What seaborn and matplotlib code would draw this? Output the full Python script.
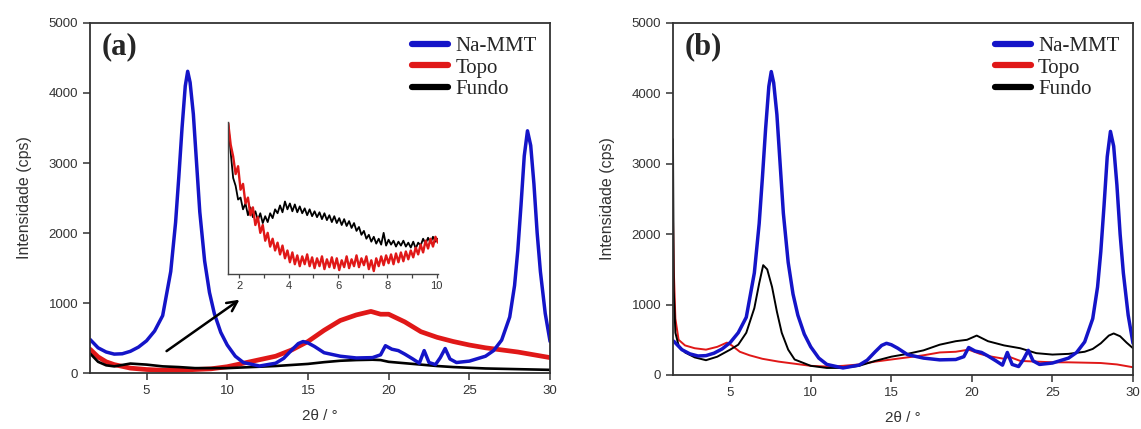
import numpy as np
import pandas as pd
import matplotlib
matplotlib.use("Agg")
import matplotlib.pyplot as plt
import seaborn as sns

# Na-MMT (same pattern in both panels)
mmt_x = [1.5, 2, 2.5, 3, 3.5, 4, 4.5, 5, 5.5, 6, 6.5, 6.8, 7.0, 7.2, 7.4, 7.55, 7.7, 7.9,
         8.1, 8.3, 8.6, 8.9, 9.2, 9.6, 10, 10.5, 11, 12, 13, 13.5, 14, 14.4, 14.7, 15.0,
         15.4, 16, 17, 18, 19, 19.5, 19.8, 20.2, 20.6, 21, 21.5, 21.9, 22.2, 22.5, 22.9,
         23.2, 23.5, 23.8, 24.2, 25, 26, 26.5, 27, 27.5, 27.8, 28.0, 28.2, 28.4, 28.6,
         28.8, 29.0, 29.2, 29.4, 29.7, 30]
mmt_y = [480, 360, 300, 270, 275, 310, 370, 460, 600, 820, 1450, 2150, 2800, 3500, 4100,
         4310, 4150, 3700, 3000, 2300, 1600, 1150, 850, 580, 400, 240, 150, 100, 140, 210,
         330, 420, 450, 430, 380, 290, 240, 215, 220, 260, 390, 340, 320, 270, 200, 140,
         320, 150, 120, 220, 350, 200, 150, 170, 240, 320, 470, 800, 1250, 1750, 2400,
         3100, 3460, 3250, 2700, 2000, 1450, 850, 450]

# panel (a)
topo_a_x = [1.5, 2, 2.5, 3, 4, 5, 6, 7, 8, 9, 10, 11, 12, 13, 14, 15, 16, 17, 18, 18.9,
            19.5, 20, 21, 22, 23, 24, 25, 26, 27, 28, 29, 30]
topo_a_y = [340, 230, 160, 120, 70, 50, 40, 40, 50, 60, 90, 140, 190, 240, 330, 450, 610,
            750, 830, 880, 840, 840, 730, 590, 510, 450, 400, 360, 330, 300, 260, 220]
fundo_a_x = [1.5, 2, 2.5, 3, 3.5, 4, 5, 6, 7, 8, 9, 10, 11, 12, 13, 14, 15, 16, 17, 18,
             19, 19.5, 20, 21, 22, 23, 24, 25, 26, 27, 28, 29, 30]
fundo_a_y = [280, 160, 110, 95, 115, 135, 120, 95, 85, 70, 70, 70, 80, 90, 100, 115, 130,
             155, 175, 185, 190, 185, 160, 140, 120, 100, 85, 75, 65, 60, 55, 50, 45]

# inset of panel (a), low-angle region (arbitrary units)
inset_x = np.round(np.arange(1.55, 10.06, 0.1), 2)
inset_fundo = [152, 122, 96, 88, 74, 76, 64, 70, 58, 66, 56, 62, 53, 60, 50, 57, 51, 60,
               55, 64, 60, 68, 61, 72, 64, 70, 62, 69, 61, 67, 60, 65, 58, 64, 57, 62, 56,
               61, 54, 60, 53, 58, 51, 57, 50, 55, 48, 54, 47, 52, 45, 50, 42, 46, 38, 42,
               34, 38, 31, 36, 29, 34, 28, 40, 27, 33, 28, 32, 26, 31, 27, 32, 26, 30, 25,
               31, 24, 30, 27, 34, 29, 35, 30, 36, 31, 34]
inset_topo = [152, 130, 118, 100, 108, 84, 90, 70, 76, 58, 66, 48, 56, 40, 48, 32, 40, 26,
              34, 22, 30, 18, 27, 14, 22, 10, 20, 8, 17, 6, 16, 8, 18, 6, 15, 4, 14, 6, 16,
              3, 13, 5, 15, 4, 14, 2, 12, 5, 16, 4, 13, 6, 17, 5, 14, 7, 16, 3, 12, 1, 14,
              6, 16, 7, 17, 9, 18, 8, 19, 10, 20, 11, 21, 13, 22, 15, 25, 18, 28, 20, 32,
              24, 34, 26, 36, 30]

# panel (b)
topo_b_x = [1.45, 1.5, 1.6, 1.8, 2.2, 2.8, 3.5, 4.2, 4.8, 5.1, 5.6, 6.2, 7, 8, 9, 10, 11,
            12, 13, 14, 15, 16, 17, 18, 19, 19.8, 20.5, 21, 22, 22.3, 23, 24, 25, 26, 27,
            28, 29, 30]
topo_b_y = [2250, 1500, 800, 500, 420, 380, 360, 400, 460, 420, 330, 280, 230, 190, 160,
            130, 120, 130, 150, 190, 220, 250, 280, 320, 330, 360, 300, 270, 230, 260, 200,
            190, 180, 180, 175, 170, 150, 110]
fundo_b_x = [1.45, 1.5, 1.6, 1.8, 2.2, 2.8, 3.5, 4.2, 5, 5.5, 6, 6.5, 6.8, 7.05, 7.3, 7.6,
             7.9, 8.2, 8.6, 9, 10, 11, 12, 13, 14, 15, 16, 17, 18, 19, 19.7, 20.3, 21, 22,
             23, 24, 25, 26, 27, 27.5, 28, 28.5, 28.8, 29.2, 29.6, 30]
fundo_b_y = [3350, 1200, 600, 420, 320, 250, 210, 260, 360, 430, 600, 950, 1300, 1560,
             1500, 1250, 900, 600, 360, 220, 130, 100, 100, 130, 200, 260, 300, 350, 430,
             480, 500, 560, 480, 420, 380, 310, 290, 300, 330, 370, 450, 560, 590, 550,
             460, 380]

labels = ["Na-MMT", "Topo", "Fundo"]
colors = ["#1414c8", "#e01818", "black"]

sns.set_theme(style="ticks")
plt.rcParams['font.family'] = ['Liberation Sans', 'DejaVu Sans']

fig = plt.figure(figsize=(11.41, 4.29), dpi=100)
ax_a = fig.add_axes([0.0789, 0.1305, 0.4032, 0.8159])
ax_b = fig.add_axes([0.5898, 0.1259, 0.4032, 0.8205])


def style_axis(ax, tag, x0):
    ax.set_xlim(x0, 30)
    ax.set_ylim(0, 5000)
    ax.set_xticks([5, 10, 15, 20, 25, 30])
    ax.set_yticks([0, 1000, 2000, 3000, 4000, 5000])
    ax.tick_params(direction='out', length=5, width=1.1, labelsize=9.5,
                   labelcolor='#333333', color='#333333')
    for sp in ax.spines.values():
        sp.set_linewidth(1.3)
        sp.set_color('#333333')
    ax.set_xlabel("2θ / °", fontsize=11, color='#333333', labelpad=9)
    ax.set_ylabel("Intensidade (cps)", fontsize=11.5, color='#333333', labelpad=12)
    ax.text(0.025, 0.975, tag, transform=ax.transAxes, fontsize=22, fontweight='bold',
            family='Liberation Serif', va='top', ha='left')


# panel (a)
sns.lineplot(x=topo_a_x, y=topo_a_y, ax=ax_a, color=colors[1], linewidth=3.4,
             estimator=None, sort=False, label=labels[1])
sns.lineplot(x=fundo_a_x, y=fundo_a_y, ax=ax_a, color=colors[2], linewidth=1.9,
             estimator=None, sort=False, label=labels[2])
sns.lineplot(x=mmt_x, y=mmt_y, ax=ax_a, color=colors[0], linewidth=2.5,
             estimator=None, sort=False, label=labels[0])
style_axis(ax_a, "(a)", 1.5)
ax_a.annotate('', xy=(10.9, 1070), xytext=(6.1, 290),
              arrowprops=dict(arrowstyle='->', color='black', lw=1.8, mutation_scale=18))

# panel (b)
sns.lineplot(x=topo_b_x, y=topo_b_y, ax=ax_b, color=colors[1], linewidth=1.4,
             estimator=None, sort=False, label=labels[1])
sns.lineplot(x=fundo_b_x, y=fundo_b_y, ax=ax_b, color=colors[2], linewidth=1.4,
             estimator=None, sort=False, label=labels[2])
sns.lineplot(x=mmt_x, y=mmt_y, ax=ax_b, color=colors[0], linewidth=2.5,
             estimator=None, sort=False, label=labels[0])
style_axis(ax_b, "(b)", 1.45)

for ax in (ax_a, ax_b):
    handles = [plt.Line2D([], [], color=c, lw=4.5) for c in colors]
    ax.legend(handles, labels, loc='upper right', frameon=False,
              prop={'family': 'Liberation Serif', 'size': 15},
              handlelength=1.7, handletextpad=0.35, labelspacing=0.1,
              borderaxespad=0.25)

# inset
ax_in = fig.add_axes([0.1998, 0.3613, 0.184, 0.354])
sns.lineplot(x=inset_x, y=inset_fundo, ax=ax_in, color='black', linewidth=1.3,
             estimator=None, sort=False)
sns.lineplot(x=inset_x, y=inset_topo, ax=ax_in, color=colors[1], linewidth=1.7,
             estimator=None, sort=False)
ax_in.set_xlim(1.54, 10.05)
ax_in.set_ylim(-2, 153)
ax_in.set_xticks([2, 4, 6, 8, 10])
ax_in.set_xticks([3, 5, 7, 9], minor=True)
ax_in.set_yticks([])
ax_in.tick_params(axis='x', which='both', direction='out', length=3, width=0.9,
                  labelsize=8, color='#444444', labelcolor='#333333', pad=2)
ax_in.patch.set_alpha(0)
for side in ('top', 'right'):
    ax_in.spines[side].set_visible(False)
for side in ('left', 'bottom'):
    ax_in.spines[side].set_linewidth(1.0)
    ax_in.spines[side].set_color('#444444')

fig.savefig("out.png", dpi=100)
